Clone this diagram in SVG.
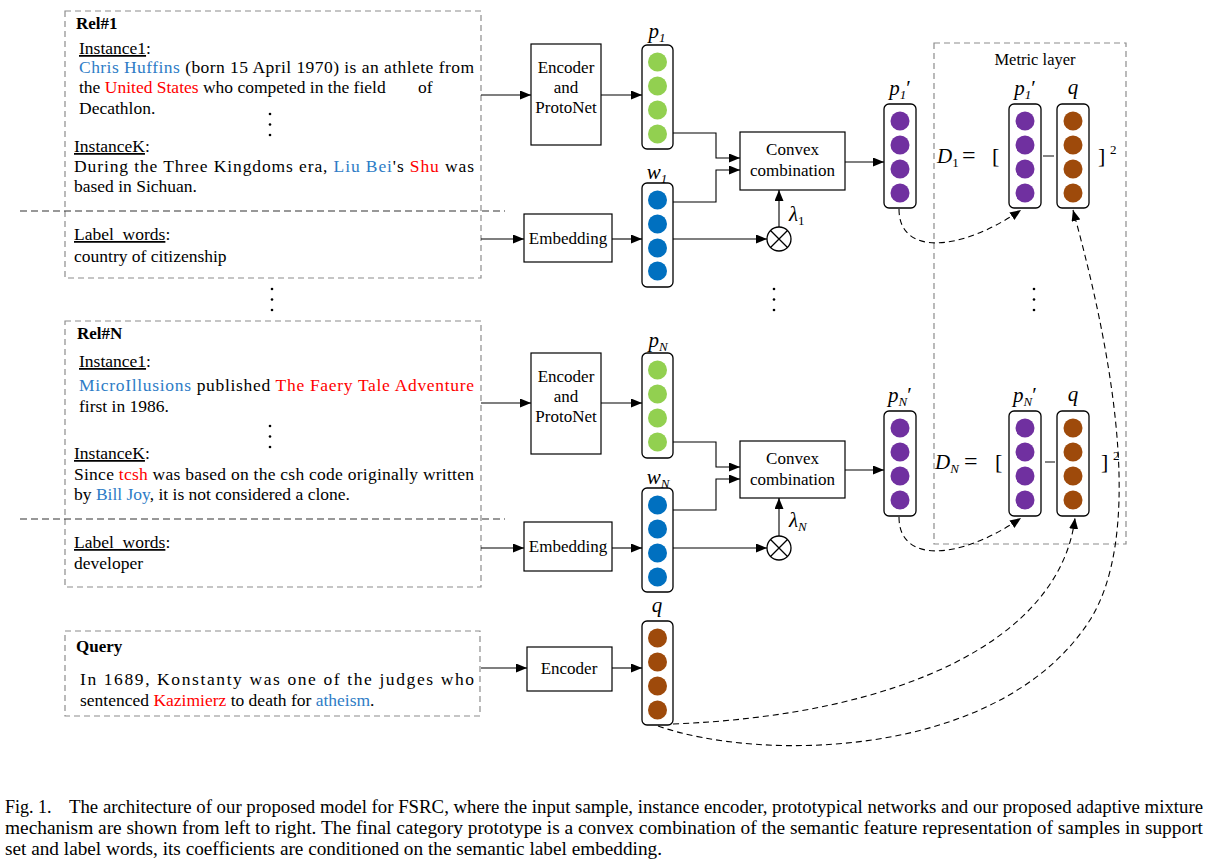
<svg xmlns="http://www.w3.org/2000/svg" width="1213" height="867" viewBox="0 0 1213 867">
<defs>
<style>
text{font-family:"Liberation Serif","Times New Roman",serif;fill:#000}
.t{font-size:17.5px}
.b{font-weight:bold;font-size:17px}
.c{font-size:17px;text-anchor:middle}
.m{font-style:italic;font-size:21px}
.sub{font-size:13px}
.blue{fill:#2E7CC6}
.red{fill:#FF0000}
.u{text-decoration:underline}
.box{fill:#fff;stroke:#000;stroke-width:1.2}
.gbox{fill:none;stroke:#8C8C8C;stroke-width:1.2;stroke-dasharray:6 4}
.sep{fill:none;stroke:#333;stroke-width:1.2;stroke-dasharray:7 4}
.col{fill:#fff;stroke:#000;stroke-width:1.3}
.ln{fill:none;stroke:#000;stroke-width:1.1}
.dl{fill:none;stroke:#000;stroke-width:1.1;stroke-dasharray:6 4}
.g{fill:#92D050}.bl{fill:#0070C0}.pu{fill:#7030A0}.br{fill:#9E4A0B}
.cap{font-size:18px}
</style>
<marker id="ah" markerWidth="11" markerHeight="9" refX="11" refY="4.5" orient="auto" markerUnits="userSpaceOnUse"><path d="M0,0 L11,4.5 L0,9 z" fill="#000"/></marker>
</defs>
<rect width="1213" height="867" fill="#fff"/>

<!-- Rel#1 box -->
<g id="rel1">
<rect class="gbox" x="65" y="11" width="416" height="267"/>
<line class="sep" x1="20" y1="211" x2="505" y2="211"/>
<text class="b" x="76" y="29">Rel#1</text>
<text class="t" x="79" y="54"><tspan class="u">Instance1</tspan>:</text>
<text class="t" x="79" y="73" textLength="395" lengthAdjust="spacing"><tspan class="blue">Chris Huffins</tspan> (born 15 April 1970) is an athlete from</text>
<text class="t" x="79" y="93">the <tspan class="red">United States</tspan> who competed in the field</text>
<text class="t" x="418" y="93">of</text>
<text class="t" x="79" y="114">Decathlon.</text>
<circle cx="270" cy="114" r="1.3"/><circle cx="270" cy="124.5" r="1.3"/><circle cx="270" cy="135" r="1.3"/>
<text class="t" x="74" y="152"><tspan class="u">InstanceK</tspan>:</text>
<text class="t" x="74" y="172" textLength="400" lengthAdjust="spacing">During the Three Kingdoms era, <tspan class="blue">Liu Bei</tspan>'s <tspan class="red">Shu</tspan> was</text>
<text class="t" x="74" y="192">based in Sichuan.</text>
<text class="t" x="74" y="240"><tspan class="u">Label_words</tspan>:</text>
<text class="t" x="74" y="262">country of citizenship</text>
</g>

<!-- dots between rel boxes -->
<g id="dots">
<circle cx="272" cy="289" r="1.3"/><circle cx="272" cy="299.5" r="1.3"/><circle cx="272" cy="310" r="1.3"/>
<circle cx="774" cy="289" r="1.3"/><circle cx="774" cy="299.5" r="1.3"/><circle cx="774" cy="310" r="1.3"/>
<circle cx="1034" cy="289" r="1.3"/><circle cx="1034" cy="299.5" r="1.3"/><circle cx="1034" cy="310" r="1.3"/>
</g>

<!-- Rel#N box -->
<g id="relN">
<rect class="gbox" x="65" y="321" width="416" height="266"/>
<line class="sep" x1="20" y1="519" x2="505" y2="519"/>
<text class="b" x="77" y="339">Rel#N</text>
<text class="t" x="79" y="367"><tspan class="u">Instance1</tspan>:</text>
<text class="t" x="79" y="391" textLength="395" lengthAdjust="spacing"><tspan class="blue">MicroIllusions</tspan> published <tspan class="red">The Faery Tale Adventure</tspan></text>
<text class="t" x="79" y="412">first in 1986.</text>
<circle cx="270" cy="426" r="1.3"/><circle cx="270" cy="436.5" r="1.3"/><circle cx="270" cy="447" r="1.3"/>
<text class="t" x="74" y="459"><tspan class="u">InstanceK</tspan>:</text>
<text class="t" x="74" y="480" textLength="400" lengthAdjust="spacing">Since <tspan class="red">tcsh</tspan> was based on the csh code originally written</text>
<text class="t" x="74" y="500">by <tspan class="blue">Bill Joy</tspan>, it is not considered a clone.</text>
<text class="t" x="74" y="548"><tspan class="u">Label_words</tspan>:</text>
<text class="t" x="74" y="569">developer</text>
</g>

<!-- Query box -->
<g id="query">
<rect class="gbox" x="65" y="631" width="415" height="85"/>
<text class="b" x="76" y="652">Query</text>
<text class="t" x="80" y="685" textLength="394" lengthAdjust="spacing">In 1689, Konstanty was one of the judges who</text>
<text class="t" x="80" y="706">sentenced <tspan class="red">Kazimierz</tspan> to death for <tspan class="blue">atheism</tspan>.</text>
</g>

<!-- Encoder blocks -->
<g id="enc1">
<rect class="box" x="531" y="44" width="70" height="101"/>
<text class="c" x="566" y="73">Encoder</text>
<text class="c" x="566" y="93">and</text>
<text class="c" x="566" y="113">ProtoNet</text>
</g>
<g id="encN">
<rect class="box" x="531" y="353" width="70" height="101"/>
<text class="c" x="566" y="382">Encoder</text>
<text class="c" x="566" y="402">and</text>
<text class="c" x="566" y="422">ProtoNet</text>
</g>
<g id="emb1">
<rect class="box" x="524" y="214" width="88" height="48"/>
<text class="c" x="568" y="244">Embedding</text>
</g>
<g id="embN">
<rect class="box" x="524" y="522" width="88" height="49"/>
<text class="c" x="568" y="552">Embedding</text>
</g>
<g id="encQ">
<rect class="box" x="527" y="647" width="85" height="44"/>
<text class="c" x="569" y="674">Encoder</text>
</g>
<g id="conv1">
<rect class="box" x="740" y="132" width="105" height="58"/>
<text class="c" x="792.5" y="155">Convex</text>
<text class="c" x="792.5" y="176">combination</text>
</g>
<g id="convN">
<rect class="box" x="740" y="441" width="105" height="57"/>
<text class="c" x="792.5" y="464">Convex</text>
<text class="c" x="792.5" y="485">combination</text>
</g>
<g id="mul1"><circle cx="779" cy="239" r="12" fill="#fff" stroke="#000" stroke-width="1.3"/><path d="M770.5,230.5 L787.5,247.5 M787.5,230.5 L770.5,247.5" stroke="#000" stroke-width="1.3"/></g>
<g id="mulN"><circle cx="779" cy="548" r="12" fill="#fff" stroke="#000" stroke-width="1.3"/><path d="M770.5,539.5 L787.5,556.5 M787.5,539.5 L770.5,556.5" stroke="#000" stroke-width="1.3"/></g>

<!-- vectors -->
<g id="p1">
<rect class="col" x="642" y="45" width="31" height="104" rx="5"/>
<circle class="g" cx="657.5" cy="62" r="9.5"/><circle class="g" cx="657.5" cy="86" r="9.5"/><circle class="g" cx="657.5" cy="110" r="9.5"/><circle class="g" cx="657.5" cy="134" r="9.5"/>
<text class="m" x="657" y="38" text-anchor="middle">p<tspan class="sub" dy="4">1</tspan></text>
</g>
<g id="w1">
<rect class="col" x="642" y="183" width="31" height="104" rx="5"/>
<circle class="bl" cx="657.5" cy="200" r="9.5"/><circle class="bl" cx="657.5" cy="224" r="9.5"/><circle class="bl" cx="657.5" cy="248" r="9.5"/><circle class="bl" cx="657.5" cy="271" r="9.5"/>
<text class="m" x="657" y="179" text-anchor="middle">w<tspan class="sub" dy="4">1</tspan></text>
</g>
<g id="pN">
<rect class="col" x="642" y="353" width="31" height="105" rx="5"/>
<circle class="g" cx="657.5" cy="370" r="9.5"/><circle class="g" cx="657.5" cy="394" r="9.5"/><circle class="g" cx="657.5" cy="418" r="9.5"/><circle class="g" cx="657.5" cy="442" r="9.5"/>
<text class="m" x="658" y="347" text-anchor="middle">p<tspan class="sub" dy="4">N</tspan></text>
</g>
<g id="wN">
<rect class="col" x="642" y="488" width="31" height="104" rx="5"/>
<circle class="bl" cx="657.5" cy="505" r="9.5"/><circle class="bl" cx="657.5" cy="529" r="9.5"/><circle class="bl" cx="657.5" cy="553" r="9.5"/><circle class="bl" cx="657.5" cy="577" r="9.5"/>
<text class="m" x="658" y="484" text-anchor="middle">w<tspan class="sub" dy="4">N</tspan></text>
</g>
<g id="qv">
<rect class="col" x="642" y="621" width="31" height="104" rx="5"/>
<circle class="br" cx="657.5" cy="638" r="9.5"/><circle class="br" cx="657.5" cy="662" r="9.5"/><circle class="br" cx="657.5" cy="686" r="9.5"/><circle class="br" cx="657.5" cy="710" r="9.5"/>
<text class="m" x="657" y="612" text-anchor="middle">q</text>
</g>
<g id="p1p">
<rect class="col" x="884" y="104" width="32" height="104" rx="5"/>
<circle class="pu" cx="900" cy="121" r="9.5"/><circle class="pu" cx="900" cy="145" r="9.5"/><circle class="pu" cx="900" cy="169" r="9.5"/><circle class="pu" cx="900" cy="193" r="9.5"/>
<text class="m" x="900" y="95" text-anchor="middle">p<tspan class="sub" dy="4">1</tspan><tspan dy="-4" font-style="normal">′</tspan></text>
</g>
<g id="pNp">
<rect class="col" x="884" y="411" width="32" height="105" rx="5"/>
<circle class="pu" cx="900" cy="428" r="9.5"/><circle class="pu" cx="900" cy="452" r="9.5"/><circle class="pu" cx="900" cy="476" r="9.5"/><circle class="pu" cx="900" cy="500" r="9.5"/>
<text class="m" x="900" y="402" text-anchor="middle">p<tspan class="sub" dy="4">N</tspan><tspan dy="-4" font-style="normal">′</tspan></text>
</g>

<!-- Metric layer -->
<g id="metric">
<rect class="gbox" x="934" y="43" width="192" height="501"/>
<text x="1035" y="65" font-size="16.5" text-anchor="middle">Metric layer</text>
<g id="d1">
<text class="m" x="937" y="163" font-size="22">D<tspan class="sub" dy="4" font-style="normal" font-size="14">1</tspan></text>
<text x="962" y="163" font-size="24">=</text>
<text x="992" y="163" font-size="22">[</text>
<line x1="1043" y1="156" x2="1054" y2="156" stroke="#333" stroke-width="1.2"/>
<text x="1098" y="163" font-size="22">]</text>
<text x="1110" y="154" font-size="13">2</text>
<rect class="col" x="1009" y="104" width="32" height="104" rx="5"/>
<circle class="pu" cx="1025" cy="121" r="9.5"/><circle class="pu" cx="1025" cy="145" r="9.5"/><circle class="pu" cx="1025" cy="169" r="9.5"/><circle class="pu" cx="1025" cy="193" r="9.5"/>
<text class="m" x="1025" y="95" text-anchor="middle">p<tspan class="sub" dy="4">1</tspan><tspan dy="-4" font-style="normal">′</tspan></text>
<rect class="col" x="1057" y="104" width="32" height="104" rx="5"/>
<circle class="br" cx="1073" cy="121" r="9.5"/><circle class="br" cx="1073" cy="145" r="9.5"/><circle class="br" cx="1073" cy="169" r="9.5"/><circle class="br" cx="1073" cy="193" r="9.5"/>
<text class="m" x="1073" y="94" text-anchor="middle">q</text>
</g>
<g id="dN">
<text class="m" x="935" y="469" font-size="22">D<tspan class="sub" dy="4">N</tspan></text>
<text x="964" y="469" font-size="24">=</text>
<text x="995" y="469" font-size="22">[</text>
<line x1="1045" y1="462" x2="1055" y2="462" stroke="#333" stroke-width="1.2"/>
<text x="1101" y="469" font-size="22">]</text>
<text x="1113" y="460" font-size="13">2</text>
<rect class="col" x="1009" y="411" width="32" height="105" rx="5"/>
<circle class="pu" cx="1025" cy="428" r="9.5"/><circle class="pu" cx="1025" cy="452" r="9.5"/><circle class="pu" cx="1025" cy="476" r="9.5"/><circle class="pu" cx="1025" cy="500" r="9.5"/>
<text class="m" x="1025" y="402" text-anchor="middle">p<tspan class="sub" dy="4">N</tspan><tspan dy="-4" font-style="normal">′</tspan></text>
<rect class="col" x="1057" y="411" width="32" height="105" rx="5"/>
<circle class="br" cx="1073" cy="428" r="9.5"/><circle class="br" cx="1073" cy="452" r="9.5"/><circle class="br" cx="1073" cy="476" r="9.5"/><circle class="br" cx="1073" cy="500" r="9.5"/>
<text class="m" x="1073" y="401" text-anchor="middle">q</text>
</g>
</g>

<!-- lambda labels -->
<text class="m" x="789" y="221">λ<tspan class="sub" dy="4" font-style="normal">1</tspan></text>
<text class="m" x="789" y="527">λ<tspan class="sub" dy="4">N</tspan></text>

<!-- connectors -->
<g id="connectors">
<path class="ln" d="M481,95 H531" marker-end="url(#ah)"/>
<path class="ln" d="M601,95 H642" marker-end="url(#ah)"/>
<path class="ln" d="M673,133 H716 V158 H740" marker-end="url(#ah)"/>
<path class="ln" d="M673,202 H716 V170 H740" marker-end="url(#ah)"/>
<path class="ln" d="M481,239 H524" marker-end="url(#ah)"/>
<path class="ln" d="M612,239 H642" marker-end="url(#ah)"/>
<path class="ln" d="M673,239 H767" marker-end="url(#ah)"/>
<path class="ln" d="M779,227 V190" marker-end="url(#ah)"/>
<path class="ln" d="M845,162 H884" marker-end="url(#ah)"/>

<path class="ln" d="M481,403 H531" marker-end="url(#ah)"/>
<path class="ln" d="M601,403 H642" marker-end="url(#ah)"/>
<path class="ln" d="M673,442 H716 V467 H740" marker-end="url(#ah)"/>
<path class="ln" d="M673,510 H716 V479 H740" marker-end="url(#ah)"/>
<path class="ln" d="M481,548 H524" marker-end="url(#ah)"/>
<path class="ln" d="M612,548 H642" marker-end="url(#ah)"/>
<path class="ln" d="M673,548 H767" marker-end="url(#ah)"/>
<path class="ln" d="M779,536 V498" marker-end="url(#ah)"/>
<path class="ln" d="M845,470 H884" marker-end="url(#ah)"/>

<path class="ln" d="M481,668 H527" marker-end="url(#ah)"/>
<path class="ln" d="M612,668 H642" marker-end="url(#ah)"/>

<path class="dl" d="M899,209 C899,256 960,252 1021,210" marker-end="url(#ah)"/>
<path class="dl" d="M899,517 C899,564 960,560 1021,518" marker-end="url(#ah)"/>
<path class="dl" d="M673,724 C900,715 1060,640 1075,518" marker-end="url(#ah)"/>
<path class="dl" d="M658,726 C760,762 1000,760 1090,620 C1140,540 1120,380 1073,210" marker-end="url(#ah)"/>
</g>

<!-- caption -->
<g id="caption">
<text class="cap" x="5" y="813">Fig. 1.</text>
<text class="cap" x="69" y="813" textLength="1134" lengthAdjust="spacingAndGlyphs">The architecture of our proposed model for FSRC, where the input sample, instance encoder, prototypical networks and our proposed adaptive mixture</text>
<text class="cap" x="5" y="834" textLength="1198" lengthAdjust="spacingAndGlyphs">mechanism are shown from left to right. The final category prototype is a convex combination of the semantic feature representation of samples in support</text>
<text class="cap" x="5" y="855" textLength="657" lengthAdjust="spacingAndGlyphs">set and label words, its coefficients are conditioned on the semantic label embedding.</text>
</g>
</svg>
